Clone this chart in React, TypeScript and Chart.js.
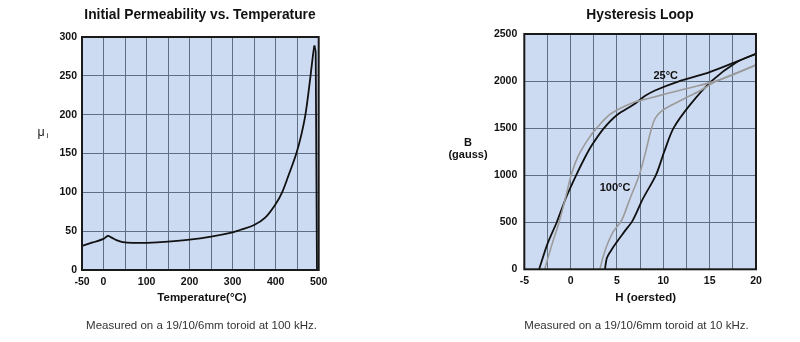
import React, { useEffect, useRef } from "react";
import { Chart, registerables } from "chart.js";

Chart.register(...registerables);

// ---- Left chart: Initial permeability vs temperature ----
const tempC = [-50, -25, 0, 10, 18, 30, 45, 70, 100, 150, 200, 250, 300, 317, 350, 375, 400, 415, 430, 448, 460, 470, 481, 487, 490];
const permeability = [31, 35.5, 40, 44, 42, 38.5, 36, 35, 35, 36.5, 39, 43, 48.5, 51.5, 58, 67, 85, 100, 122, 150, 175, 203, 250, 278, 289];
// sharp fall-off past the Curie point
const dropTempC = [490, 493, 496];
const dropPermeability = [289, 281, 0];
const tempTickLabels = [-50, 0, 100, 200, 300, 400, 500];

// ---- Right chart: Hysteresis loop ----
const h25Down = [-3.4, -2.5, -1.5, -0.5, 0.6, 1.5, 2.3, 3.6, 5.0, 6.8, 8.0, 9.1, 11.6, 15.0, 17.5, 20];
const b25Down = [0, 270, 500, 760, 1000, 1180, 1320, 1500, 1640, 1750, 1840, 1900, 1995, 2095, 2190, 2290];
const h25Up = [3.7, 3.9, 4.3, 4.9, 5.8, 6.7, 7.8, 9.2, 10.1, 11.1, 12.9, 15.2, 17.9, 20];
const b25Up = [0, 117, 190, 280, 400, 520, 750, 1000, 1250, 1500, 1750, 2000, 2200, 2290];
const h100Down = [-2.8, -2.0, -1.25, -0.5, 0.05, 0.8, 1.8, 2.8, 4.3, 6.7, 8.6, 10.5, 12.5, 16.0, 20];
const b100Down = [0, 270, 500, 780, 1000, 1200, 1370, 1500, 1650, 1770, 1820, 1870, 1920, 2010, 2170];
const h100Up = [3.15, 3.5, 3.9, 4.6, 5.5, 6.4, 7.4, 8.1, 8.6, 9.1, 9.8, 10.8, 12.2, 14.0, 15.75, 18, 20];
const b100Up = [0, 130, 250, 400, 520, 750, 1000, 1250, 1450, 1600, 1680, 1740, 1810, 1900, 2000, 2090, 2170];
const hTickLabels = [-5, 0, 5, 10, 15, 20];

const FONT = "'Liberation Sans', Arial, Helvetica, sans-serif";
const PLOT_BG = "#cddbf2";
const GRID = "#5f6f82";

const pts = (xs: number[], ys: number[]) => xs.map((x, i) => ({ x, y: ys[i] }));

type TextItem = { text: string; x: number; y: number; font: string; color?: string; align?: CanvasTextAlign };

const makeDecor = (texts: TextItem[]) => ({
  id: "decor",
  beforeDraw(chart: any) {
    const { ctx, chartArea: a } = chart;
    ctx.save();
    ctx.fillStyle = "#ffffff";
    ctx.fillRect(0, 0, chart.width, chart.height);
    ctx.fillStyle = PLOT_BG;
    ctx.fillRect(a.left, a.top, a.right - a.left, a.bottom - a.top);
    ctx.restore();
  },
  afterDraw(chart: any) {
    const { ctx, chartArea: a } = chart;
    ctx.save();
    ctx.strokeStyle = "#1a1a1a";
    ctx.lineWidth = 2;
    ctx.strokeRect(a.left, a.top, a.right - a.left, a.bottom - a.top);
    ctx.textBaseline = "middle";
    texts.forEach((t) => {
      ctx.font = t.font;
      ctx.fillStyle = t.color || "#111";
      ctx.textAlign = t.align || "center";
      ctx.fillText(t.text, t.x, t.y);
    });
    ctx.restore();
  },
});

const tickFont = { family: FONT, size: 10.5, weight: "bold" as const };

function useChart(ref: React.RefObject<HTMLCanvasElement | null>, build: () => any) {
  useEffect(() => {
    if (!ref.current) return;
    const chart = new Chart(ref.current, build());
    return () => chart.destroy();
  }, []);
}

const line = (xs: number[], ys: number[], color: string, w: number, tension: number) => ({
  data: pts(xs, ys),
  showLine: true,
  borderColor: color,
  borderWidth: w,
  pointRadius: 0,
  tension,
});

function PermeabilityChart() {
  const ref = useRef<HTMLCanvasElement | null>(null);
  useChart(ref, () => ({
    type: "scatter",
    data: {
      datasets: [
        line(tempC, permeability, "#111", 1.8, 0.35),
        line(dropTempC, dropPermeability, "#111", 1.8, 0),
      ],
    },
    options: {
      responsive: false,
      animation: false,
      events: [],
      layout: { padding: { top: 37, right: 81.3, left: 0, bottom: 0 } },
      plugins: { legend: { display: false }, tooltip: { enabled: false } },
      scales: {
        x: {
          type: "linear",
          min: -50,
          max: 500,
          afterFit: (s: any) => { s.height = 72; },
          afterBuildTicks: (s: any) => {
            const t = [];
            for (let v = -50; v <= 500; v += 50) t.push({ value: v });
            s.ticks = t;
          },
          ticks: {
            font: tickFont,
            color: "#111",
            padding: 6,
            maxRotation: 0,
            autoSkip: false,
            callback: (v: number) => (tempTickLabels.includes(v) ? String(v) : ""),
          },
          grid: { color: GRID, lineWidth: 1, drawTicks: false },
          border: { display: false },
        },
        y: {
          type: "linear",
          min: 0,
          max: 300,
          afterFit: (s: any) => { s.width = 82; },
          ticks: { stepSize: 50, font: tickFont, color: "#111", padding: 5, callback: (v: number) => String(v) },
          grid: { color: GRID, lineWidth: 1, drawTicks: false },
          border: { display: false },
        },
      },
    },
    plugins: [
      makeDecor([
        { text: "Initial Permeability vs. Temperature", x: 200, y: 15, font: `bold 13.8px ${FONT}` },
        { text: "Temperature(°C)", x: 202, y: 297.5, font: `bold 11.5px ${FONT}` },
        { text: "Measured on a 19/10/6mm toroid at 100 kHz.", x: 201.5, y: 325.5, font: `11.5px ${FONT}`, color: "#333" },
        { text: "μ", x: 41, y: 133, font: `12.5px ${FONT}`, color: "#222" },
        { text: "i", x: 46.5, y: 136, font: `8px ${FONT}`, color: "#222", align: "left" },
      ]),
    ],
  }));
  return <canvas ref={ref} width={400} height={342} style={{ position: "absolute", left: 0, top: 0 }} />;
}

function HysteresisChart() {
  const ref = useRef<HTMLCanvasElement | null>(null);
  useChart(ref, () => ({
    type: "scatter",
    data: {
      datasets: [
        line(h100Down, b100Down, "#9b9b9b", 1.6, 0.3),
        line(h100Up, b100Up, "#9b9b9b", 1.6, 0.3),
        line(h25Down, b25Down, "#111", 1.8, 0.3),
        line(h25Up, b25Up, "#111", 1.8, 0.3),
      ],
    },
    options: {
      responsive: false,
      animation: false,
      events: [],
      layout: { padding: { top: 34, right: 44, left: 0, bottom: 0 } },
      plugins: { legend: { display: false }, tooltip: { enabled: false } },
      scales: {
        x: {
          type: "linear",
          min: -5,
          max: 20,
          afterFit: (s: any) => { s.height = 72.7; },
          afterBuildTicks: (s: any) => {
            const t = [];
            for (let v = -5; v <= 20; v += 2.5) t.push({ value: v });
            s.ticks = t;
          },
          ticks: {
            font: tickFont,
            color: "#111",
            padding: 6,
            maxRotation: 0,
            autoSkip: false,
            callback: (v: number) => (hTickLabels.includes(v) ? String(v) : ""),
          },
          grid: { color: GRID, lineWidth: 1, drawTicks: false },
          border: { display: false },
        },
        y: {
          type: "linear",
          min: 0,
          max: 2500,
          afterFit: (s: any) => { s.width = 124.3; },
          ticks: { stepSize: 500, font: tickFont, color: "#111", padding: 7, callback: (v: number) => String(v) },
          grid: { color: GRID, lineWidth: 1, drawTicks: false },
          border: { display: false },
        },
      },
    },
    plugins: [
      makeDecor([
        { text: "Hysteresis Loop", x: 240, y: 15, font: `bold 13.8px ${FONT}` },
        { text: "H (oersted)", x: 245.7, y: 297.5, font: `bold 11.5px ${FONT}` },
        { text: "Measured on a 19/10/6mm toroid at 10 kHz.", x: 236.5, y: 325.5, font: `11.5px ${FONT}`, color: "#333" },
        { text: "B", x: 68, y: 143, font: `bold 11px ${FONT}` },
        { text: "(gauss)", x: 68, y: 155, font: `bold 11px ${FONT}` },
        { text: "25°C", x: 265.7, y: 76, font: `bold 11px ${FONT}` },
        { text: "100°C", x: 215, y: 188.3, font: `bold 11px ${FONT}` },
      ]),
    ],
  }));
  return <canvas ref={ref} width={400} height={342} style={{ position: "absolute", left: 400, top: 0 }} />;
}

export default function App() {
  return (
    <div style={{ position: "fixed", left: 0, top: 0, width: 800, height: 342, background: "#fff", overflow: "hidden" }}>
      <PermeabilityChart />
      <HysteresisChart />
    </div>
  );
}
